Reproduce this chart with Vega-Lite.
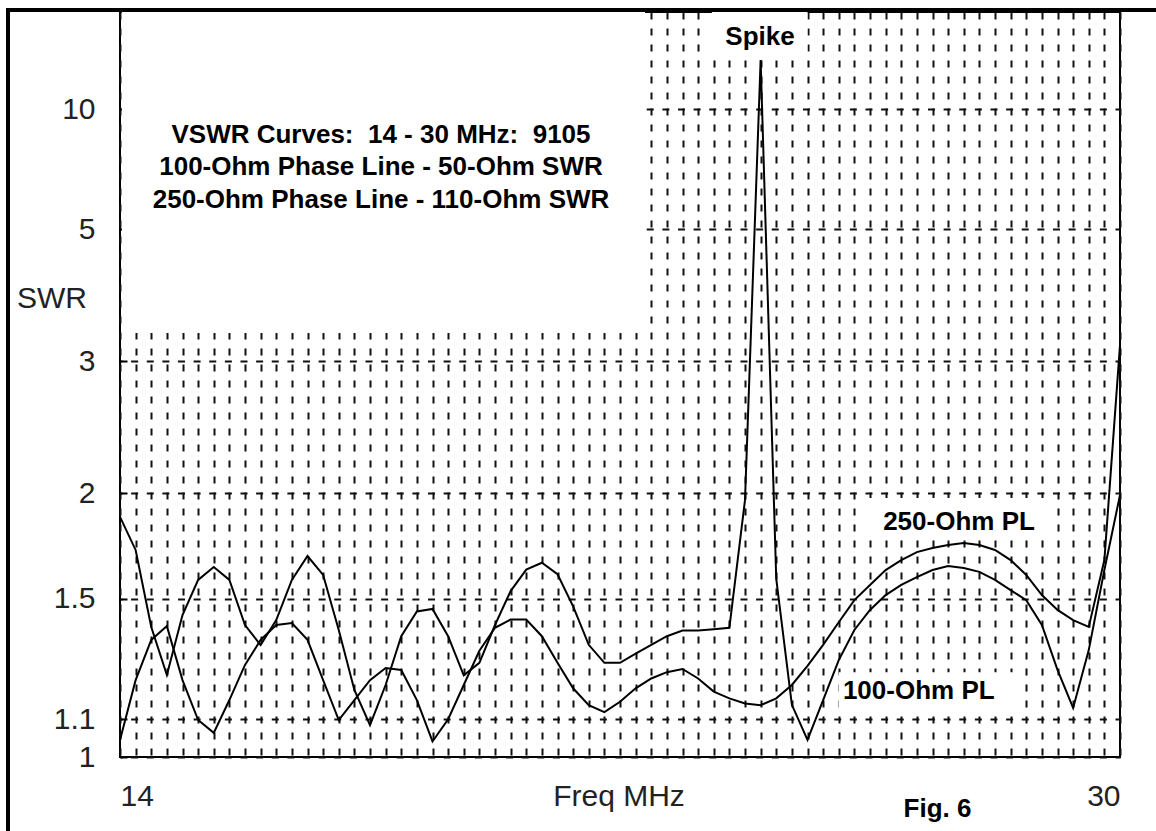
{
  "$schema": "https://vega.github.io/schema/vega-lite/v6.json",
  "width": 1000,
  "height": 745,
  "autosize": {"type": "none"},
  "padding": {"left": 120, "top": 12, "right": 36, "bottom": 74},
  "background": "white",
  "config": {
    "view": {"stroke": "black", "strokeWidth": 2},
    "font": "Liberation Sans"
  },
  "datasets": {
    "sweep": [
      {"freq": 14.0, "swr": 1.870, "curve": "100-Ohm PL"},
      {"freq": 14.25, "swr": 1.708, "curve": "100-Ohm PL"},
      {"freq": 14.5, "swr": 1.393, "curve": "100-Ohm PL"},
      {"freq": 14.75, "swr": 1.231, "curve": "100-Ohm PL"},
      {"freq": 15.0, "swr": 1.437, "curve": "100-Ohm PL"},
      {"freq": 15.25, "swr": 1.576, "curve": "100-Ohm PL"},
      {"freq": 15.5, "swr": 1.631, "curve": "100-Ohm PL"},
      {"freq": 15.75, "swr": 1.576, "curve": "100-Ohm PL"},
      {"freq": 16.0, "swr": 1.400, "curve": "100-Ohm PL"},
      {"freq": 16.25, "swr": 1.329, "curve": "100-Ohm PL"},
      {"freq": 16.5, "swr": 1.418, "curve": "100-Ohm PL"},
      {"freq": 16.75, "swr": 1.576, "curve": "100-Ohm PL"},
      {"freq": 17.0, "swr": 1.680, "curve": "100-Ohm PL"},
      {"freq": 17.25, "swr": 1.597, "curve": "100-Ohm PL"},
      {"freq": 17.5, "swr": 1.382, "curve": "100-Ohm PL"},
      {"freq": 17.75, "swr": 1.185, "curve": "100-Ohm PL"},
      {"freq": 18.0, "swr": 1.084, "curve": "100-Ohm PL"},
      {"freq": 18.25, "swr": 1.200, "curve": "100-Ohm PL"},
      {"freq": 18.5, "swr": 1.360, "curve": "100-Ohm PL"},
      {"freq": 18.75, "swr": 1.450, "curve": "100-Ohm PL"},
      {"freq": 19.0, "swr": 1.460, "curve": "100-Ohm PL"},
      {"freq": 19.25, "swr": 1.360, "curve": "100-Ohm PL"},
      {"freq": 19.5, "swr": 1.230, "curve": "100-Ohm PL"},
      {"freq": 19.75, "swr": 1.270, "curve": "100-Ohm PL"},
      {"freq": 20.0, "swr": 1.400, "curve": "100-Ohm PL"},
      {"freq": 20.25, "swr": 1.530, "curve": "100-Ohm PL"},
      {"freq": 20.5, "swr": 1.620, "curve": "100-Ohm PL"},
      {"freq": 20.75, "swr": 1.650, "curve": "100-Ohm PL"},
      {"freq": 21.0, "swr": 1.600, "curve": "100-Ohm PL"},
      {"freq": 21.25, "swr": 1.470, "curve": "100-Ohm PL"},
      {"freq": 21.5, "swr": 1.330, "curve": "100-Ohm PL"},
      {"freq": 21.75, "swr": 1.270, "curve": "100-Ohm PL"},
      {"freq": 22.0, "swr": 1.270, "curve": "100-Ohm PL"},
      {"freq": 22.25, "swr": 1.300, "curve": "100-Ohm PL"},
      {"freq": 22.5, "swr": 1.330, "curve": "100-Ohm PL"},
      {"freq": 22.75, "swr": 1.360, "curve": "100-Ohm PL"},
      {"freq": 23.0, "swr": 1.380, "curve": "100-Ohm PL"},
      {"freq": 23.25, "swr": 1.380, "curve": "100-Ohm PL"},
      {"freq": 23.5, "swr": 1.385, "curve": "100-Ohm PL"},
      {"freq": 23.75, "swr": 1.390, "curve": "100-Ohm PL"},
      {"freq": 24.0, "swr": 1.960, "curve": "100-Ohm PL"},
      {"freq": 24.25, "swr": 15.67, "curve": "100-Ohm PL"},
      {"freq": 24.5, "swr": 1.580, "curve": "100-Ohm PL"},
      {"freq": 24.75, "swr": 1.141, "curve": "100-Ohm PL"},
      {"freq": 25.0, "swr": 1.044, "curve": "100-Ohm PL"},
      {"freq": 25.25, "swr": 1.155, "curve": "100-Ohm PL"},
      {"freq": 25.5, "swr": 1.279, "curve": "100-Ohm PL"},
      {"freq": 25.75, "swr": 1.382, "curve": "100-Ohm PL"},
      {"freq": 26.0, "swr": 1.456, "curve": "100-Ohm PL"},
      {"freq": 26.25, "swr": 1.514, "curve": "100-Ohm PL"},
      {"freq": 26.5, "swr": 1.555, "curve": "100-Ohm PL"},
      {"freq": 26.75, "swr": 1.588, "curve": "100-Ohm PL"},
      {"freq": 27.0, "swr": 1.618, "curve": "100-Ohm PL"},
      {"freq": 27.25, "swr": 1.636, "curve": "100-Ohm PL"},
      {"freq": 27.5, "swr": 1.627, "curve": "100-Ohm PL"},
      {"freq": 27.75, "swr": 1.610, "curve": "100-Ohm PL"},
      {"freq": 28.0, "swr": 1.576, "curve": "100-Ohm PL"},
      {"freq": 28.25, "swr": 1.534, "curve": "100-Ohm PL"},
      {"freq": 28.5, "swr": 1.494, "curve": "100-Ohm PL"},
      {"freq": 28.75, "swr": 1.400, "curve": "100-Ohm PL"},
      {"freq": 29.0, "swr": 1.247, "curve": "100-Ohm PL"},
      {"freq": 29.25, "swr": 1.132, "curve": "100-Ohm PL"},
      {"freq": 29.5, "swr": 1.312, "curve": "100-Ohm PL"},
      {"freq": 29.75, "swr": 1.618, "curve": "100-Ohm PL"},
      {"freq": 30.0, "swr": 1.989, "curve": "100-Ohm PL"},
      {"freq": 14.0, "swr": 1.044, "curve": "250-Ohm PL"},
      {"freq": 14.25, "swr": 1.215, "curve": "250-Ohm PL"},
      {"freq": 14.5, "swr": 1.347, "curve": "250-Ohm PL"},
      {"freq": 14.75, "swr": 1.396, "curve": "250-Ohm PL"},
      {"freq": 15.0, "swr": 1.215, "curve": "250-Ohm PL"},
      {"freq": 15.25, "swr": 1.098, "curve": "250-Ohm PL"},
      {"freq": 15.5, "swr": 1.063, "curve": "250-Ohm PL"},
      {"freq": 15.75, "swr": 1.155, "curve": "250-Ohm PL"},
      {"freq": 16.0, "swr": 1.263, "curve": "250-Ohm PL"},
      {"freq": 16.25, "swr": 1.347, "curve": "250-Ohm PL"},
      {"freq": 16.5, "swr": 1.400, "curve": "250-Ohm PL"},
      {"freq": 16.75, "swr": 1.407, "curve": "250-Ohm PL"},
      {"freq": 17.0, "swr": 1.347, "curve": "250-Ohm PL"},
      {"freq": 17.25, "swr": 1.215, "curve": "250-Ohm PL"},
      {"freq": 17.5, "swr": 1.098, "curve": "250-Ohm PL"},
      {"freq": 17.75, "swr": 1.155, "curve": "250-Ohm PL"},
      {"freq": 18.0, "swr": 1.215, "curve": "250-Ohm PL"},
      {"freq": 18.25, "swr": 1.253, "curve": "250-Ohm PL"},
      {"freq": 18.5, "swr": 1.247, "curve": "250-Ohm PL"},
      {"freq": 18.75, "swr": 1.155, "curve": "250-Ohm PL"},
      {"freq": 19.0, "swr": 1.040, "curve": "250-Ohm PL"},
      {"freq": 19.25, "swr": 1.100, "curve": "250-Ohm PL"},
      {"freq": 19.5, "swr": 1.200, "curve": "250-Ohm PL"},
      {"freq": 19.75, "swr": 1.310, "curve": "250-Ohm PL"},
      {"freq": 20.0, "swr": 1.390, "curve": "250-Ohm PL"},
      {"freq": 20.25, "swr": 1.420, "curve": "250-Ohm PL"},
      {"freq": 20.5, "swr": 1.420, "curve": "250-Ohm PL"},
      {"freq": 20.75, "swr": 1.360, "curve": "250-Ohm PL"},
      {"freq": 21.0, "swr": 1.270, "curve": "250-Ohm PL"},
      {"freq": 21.25, "swr": 1.190, "curve": "250-Ohm PL"},
      {"freq": 21.5, "swr": 1.140, "curve": "250-Ohm PL"},
      {"freq": 21.75, "swr": 1.120, "curve": "250-Ohm PL"},
      {"freq": 22.0, "swr": 1.150, "curve": "250-Ohm PL"},
      {"freq": 22.25, "swr": 1.190, "curve": "250-Ohm PL"},
      {"freq": 22.5, "swr": 1.220, "curve": "250-Ohm PL"},
      {"freq": 22.75, "swr": 1.240, "curve": "250-Ohm PL"},
      {"freq": 23.0, "swr": 1.250, "curve": "250-Ohm PL"},
      {"freq": 23.25, "swr": 1.220, "curve": "250-Ohm PL"},
      {"freq": 23.5, "swr": 1.180, "curve": "250-Ohm PL"},
      {"freq": 23.75, "swr": 1.160, "curve": "250-Ohm PL"},
      {"freq": 24.0, "swr": 1.145, "curve": "250-Ohm PL"},
      {"freq": 24.25, "swr": 1.140, "curve": "250-Ohm PL"},
      {"freq": 24.5, "swr": 1.160, "curve": "250-Ohm PL"},
      {"freq": 24.75, "swr": 1.200, "curve": "250-Ohm PL"},
      {"freq": 25.0, "swr": 1.260, "curve": "250-Ohm PL"},
      {"freq": 25.25, "swr": 1.330, "curve": "250-Ohm PL"},
      {"freq": 25.5, "swr": 1.410, "curve": "250-Ohm PL"},
      {"freq": 25.75, "swr": 1.494, "curve": "250-Ohm PL"},
      {"freq": 26.0, "swr": 1.555, "curve": "250-Ohm PL"},
      {"freq": 26.25, "swr": 1.618, "curve": "250-Ohm PL"},
      {"freq": 26.5, "swr": 1.662, "curve": "250-Ohm PL"},
      {"freq": 26.75, "swr": 1.698, "curve": "250-Ohm PL"},
      {"freq": 27.0, "swr": 1.717, "curve": "250-Ohm PL"},
      {"freq": 27.25, "swr": 1.731, "curve": "250-Ohm PL"},
      {"freq": 27.5, "swr": 1.740, "curve": "250-Ohm PL"},
      {"freq": 27.75, "swr": 1.731, "curve": "250-Ohm PL"},
      {"freq": 28.0, "swr": 1.708, "curve": "250-Ohm PL"},
      {"freq": 28.25, "swr": 1.662, "curve": "250-Ohm PL"},
      {"freq": 28.5, "swr": 1.597, "curve": "250-Ohm PL"},
      {"freq": 28.75, "swr": 1.514, "curve": "250-Ohm PL"},
      {"freq": 29.0, "swr": 1.456, "curve": "250-Ohm PL"},
      {"freq": 29.25, "swr": 1.418, "curve": "250-Ohm PL"},
      {"freq": 29.5, "swr": 1.393, "curve": "250-Ohm PL"},
      {"freq": 29.75, "swr": 1.662, "curve": "250-Ohm PL"},
      {"freq": 30.0, "swr": 3.168, "curve": "250-Ohm PL"}
    ],
    "one": [{"n": 1}]
  },
  "layer": [
    {
      "data": {"name": "sweep"},
      "transform": [{"calculate": "(datum.swr - 1) / (datum.swr + 1)", "as": "rho"}],
      "mark": {"type": "line", "color": "black", "strokeWidth": 2, "strokeJoin": "miter"},
      "encoding": {
        "x": {
          "field": "freq", "type": "quantitative",
          "scale": {"domain": [14, 30], "nice": false, "zero": false},
          "axis": {
            "title": "Freq MHz", "titleFont": "Liberation Sans", "titleFontSize": 30, "titleFontWeight": "normal", "titleColor": "#222",
            "titleX": 498.5, "titleY": 48, "titleBaseline": "alphabetic", "titleAlign": "center",
            "tickCount": 200,
            "values": [14, 14.25, 14.5, 14.75, 15, 15.25, 15.5, 15.75, 16, 16.25, 16.5, 16.75, 17, 17.25, 17.5, 17.75, 18, 18.25, 18.5, 18.75, 19, 19.25, 19.5, 19.75, 20, 20.25, 20.5, 20.75, 21, 21.25, 21.5, 21.75, 22, 22.25, 22.5, 22.75, 23, 23.25, 23.5, 23.75, 24, 24.25, 24.5, 24.75, 25, 25.25, 25.5, 25.75, 26, 26.25, 26.5, 26.75, 27, 27.25, 27.5, 27.75, 28, 28.25, 28.5, 28.75, 29, 29.25, 29.5, 29.75, 30],
            "labelExpr": "datum.value == 14 || datum.value == 30 ? format(datum.value, 'd') : ''",
            "labelFlush": true, "labelBound": false, "labelOverlap": false,
            "labelFont": "Liberation Sans", "labelFontSize": 30, "labelColor": "#222",
            "labelBaseline": "alphabetic", "labelPadding": 48,
            "ticks": false, "domain": false,
            "grid": true, "gridColor": "#111", "gridWidth": 2, "gridDash": [7, 9], "gridOpacity": 1
          }
        },
        "y": {
          "field": "rho", "type": "quantitative",
          "scale": {"domain": [0, 0.9407], "nice": false, "zero": false},
          "axis": {
            "title": "SWR", "titleFont": "Liberation Sans", "titleFontSize": 30, "titleFontWeight": "normal", "titleColor": "#222",
            "titleAngle": 0, "titleX": -68.5, "titleY": 295, "titleAlign": "center", "titleBaseline": "alphabetic",
            "tickCount": 50,
            "values": [0, 0.047619, 0.2, 0.333333, 0.5, 0.666667, 0.818182],
            "labelExpr": "format((1 + datum.value) / (1 - datum.value), '.2~r')",
            "labelFont": "Liberation Sans", "labelFontSize": 30, "labelColor": "#222",
            "labelBaseline": "middle", "labelAlign": "right", "labelPadding": 32, "labelOverlap": false, "labelBound": false, "labelFlush": false,
            "ticks": true, "tickSize": -7, "tickWidth": 2, "tickColor": "black",
            "domain": false,
            "grid": true, "gridColor": "#111", "gridWidth": 2, "gridDash": [7, 8.625], "gridDashOffset": 5, "gridOpacity": 1
          }
        },
        "detail": {"field": "curve", "type": "nominal"}
      }
    },
    {
      "data": {"name": "one"},
      "mark": {"type": "rect", "color": "white"},
      "encoding": {
        "x": {"datum": 14.03, "type": "quantitative"},
        "x2": {"datum": 22.4},
        "y": {"datum": 0.5354, "type": "quantitative"},
        "y2": {"datum": 0.9407}
      }
    },
    {
      "data": {"name": "one"},
      "mark": {"type": "rect", "color": "white"},
      "encoding": {
        "x": {"datum": 23.47, "type": "quantitative"},
        "x2": {"datum": 25.0},
        "y": {"datum": 0.8826, "type": "quantitative"},
        "y2": {"datum": 0.9407}
      }
    },
    {
      "data": {"name": "one"},
      "mark": {"type": "rect", "color": "white"},
      "encoding": {
        "x": {"datum": 25.87, "type": "quantitative"},
        "x2": {"datum": 28.8},
        "y": {"datum": 0.274, "type": "quantitative"},
        "y2": {"datum": 0.327}
      }
    },
    {
      "data": {"name": "one"},
      "mark": {"type": "rect", "color": "white"},
      "encoding": {
        "x": {"datum": 25.5, "type": "quantitative"},
        "x2": {"datum": 28.4},
        "y": {"datum": 0.0618, "type": "quantitative"},
        "y2": {"datum": 0.107}
      }
    },
    {
      "data": {"name": "one"},
      "mark": {"type": "text", "font": "Liberation Sans", "fontWeight": "bold", "fontSize": 26, "align": "center", "baseline": "alphabetic", "lineHeight": 32.5, "color": "black",
        "text": ["VSWR Curves:\u00a0 14 - 30 MHz:\u00a0 9105", "100-Ohm Phase Line - 50-Ohm SWR", "250-Ohm Phase Line - 110-Ohm SWR"]},
      "encoding": {
        "x": {"datum": 18.176, "type": "quantitative"},
        "y": {"datum": 0.7753, "type": "quantitative"}
      }
    },
    {
      "data": {"name": "one"},
      "mark": {"type": "text", "font": "Liberation Sans", "fontWeight": "bold", "fontSize": 26, "align": "center", "baseline": "alphabetic", "color": "black", "text": "Spike"},
      "encoding": {
        "x": {"datum": 24.24, "type": "quantitative"},
        "y": {"datum": 0.899, "type": "quantitative"}
      }
    },
    {
      "data": {"name": "one"},
      "mark": {"type": "text", "font": "Liberation Sans", "fontWeight": "bold", "fontSize": 26, "align": "center", "baseline": "alphabetic", "color": "black", "text": "250-Ohm PL"},
      "encoding": {
        "x": {"datum": 27.424, "type": "quantitative"},
        "y": {"datum": 0.2866, "type": "quantitative"}
      }
    },
    {
      "data": {"name": "one"},
      "mark": {"type": "text", "font": "Liberation Sans", "fontWeight": "bold", "fontSize": 26, "align": "center", "baseline": "alphabetic", "color": "black", "text": "100-Ohm PL"},
      "encoding": {
        "x": {"datum": 26.78, "type": "quantitative"},
        "y": {"datum": 0.0732, "type": "quantitative"}
      }
    },
    {
      "data": {"name": "one"},
      "mark": {"type": "text", "font": "Liberation Sans", "fontWeight": "bold", "fontSize": 26, "align": "center", "baseline": "alphabetic", "color": "black", "text": "Fig. 6"},
      "encoding": {
        "x": {"datum": 27.08, "type": "quantitative"},
        "y": {"datum": -0.0758, "type": "quantitative"}
      }
    },
    {
      "data": {"name": "one"},
      "mark": {"type": "rule", "color": "black", "strokeWidth": 4, "strokeCap": "square"},
      "encoding": {
        "x": {"datum": 12.208, "type": "quantitative"},
        "x2": {"datum": 31},
        "y": {"datum": 0.94318, "type": "quantitative"}
      }
    },
    {
      "data": {"name": "one"},
      "mark": {"type": "rule", "color": "black", "strokeWidth": 4, "strokeCap": "square"},
      "encoding": {
        "x": {"datum": 12.208, "type": "quantitative"},
        "y": {"datum": 0.94318, "type": "quantitative"},
        "y2": {"datum": -0.12}
      }
    }
  ]
}
